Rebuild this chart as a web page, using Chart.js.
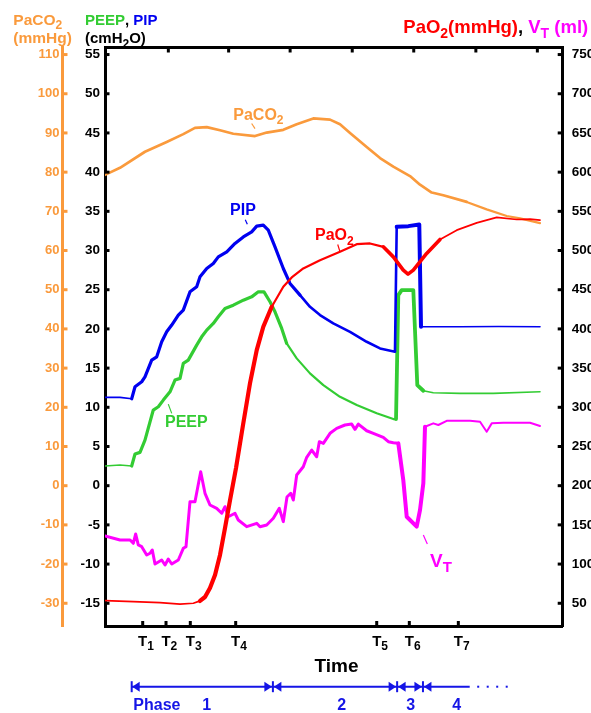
<!DOCTYPE html>
<html>
<head>
<meta charset="utf-8">
<script src="https://cdn.jsdelivr.net/npm/chart.js@4.4.1/dist/chart.umd.min.js"></script>
<style>
  html, body { margin: 0; padding: 0; background: #fff; }
  #wrap { width: 591px; height: 713px; position: relative; }
</style>
</head>
<body>
<div id="wrap"><canvas id="chart"></canvas></div>
<script>
// ---- data (time in arbitrary units along the x axis) ----
const timeTicks = [6.13, 9.92, 13.87, 21.25, 44.18, 49.48, 57.45];
const timeLabels = ['1', '2', '3', '4', '5', '6', '7'];
const topTicks = [10.3, 20.1, 30.1, 40.2, 50.2, 60.3, 70.3];

const cmTicks = [-15, -10, -5, 0, 5, 10, 15, 20, 25, 30, 35, 40, 45, 50, 55];
const pacoTicks = [-30, -20, -10, 0, 10, 20, 30, 40, 50, 60, 70, 80, 90, 100, 110];
const mlTicks = [50, 100, 150, 200, 250, 300, 350, 400, 450, 500, 550, 600, 650, 700, 750];

const phaseEdges = [4.34, 27.3, 47.5, 51.7, 59.3];
const phaseNames = ['1', '2', '3', '4'];
const phaseNameAt = [16.54, 38.49, 49.71, 57.19];

const pacoTime = [0, 2.44, 6.5, 10.03, 12.73, 14.63, 16.54, 18.7, 20.86, 24.39, 26.29, 28.99, 31.17, 33.87, 36.59, 38.21, 39.84, 42.55, 44.72, 46.88, 49.59, 51.22, 53.12, 55.0, 58.81, 62.06, 65.32, 67.48, 70.73];
const pacoVal = [79.3, 81.1, 85.2, 87.7, 89.7, 91.3, 91.5, 90.7, 89.8, 89.2, 90.1, 90.8, 92.2, 93.7, 93.4, 92.2, 90.0, 86.4, 83.6, 81.4, 79.0, 76.8, 74.8, 74.1, 72.4, 70.5, 68.8, 68.2, 67.0];

const pipTime = [0, 2.44, 4.34, 4.88, 5.97, 6.5, 7.59, 8.41, 9.22, 10.03, 10.85, 11.92, 12.73, 13.82, 14.91, 15.45, 16.54, 17.61, 18.42, 19.8, 21.14, 22.49, 23.85, 24.67, 25.74, 26.55, 27.64, 28.99, 30.08, 31.71, 33.33, 34.96, 37.12, 39.84, 42.55, 44.72, 47.15, 47.43, 49.32, 51.1, 51.38, 57.72, 64.0, 70.73];
const pipVal = [11.27, 11.27, 11.09, 12.62, 13.26, 13.89, 16.02, 16.44, 18.36, 19.63, 20.49, 21.76, 22.4, 24.73, 25.37, 26.64, 27.71, 28.35, 29.19, 29.83, 30.9, 31.74, 32.38, 33.11, 33.24, 32.6, 30.47, 27.71, 25.8, 24.31, 22.82, 21.76, 20.7, 19.63, 18.36, 17.51, 17.08, 33.02, 33.11, 33.32, 20.27, 20.27, 20.3, 20.27];

const peepTime = [0, 2.44, 4.34, 4.88, 5.69, 6.5, 7.85, 8.67, 9.48, 10.57, 11.38, 12.2, 12.73, 13.54, 14.91, 15.72, 16.54, 17.61, 18.42, 19.51, 20.86, 22.49, 23.85, 24.93, 25.85, 26.83, 27.64, 28.73, 29.54, 31.17, 33.33, 35.5, 38.21, 40.93, 44.18, 46.88, 47.32, 47.69, 48.24, 50.13, 50.78, 51.76, 53.38, 57.72, 63.14, 70.73];
const peepVal = [2.51, 2.63, 2.51, 4.04, 4.25, 5.82, 9.65, 10.07, 10.92, 11.98, 13.47, 13.69, 15.6, 16.02, 17.93, 18.99, 19.85, 20.7, 21.54, 22.61, 23.03, 23.67, 24.09, 24.73, 24.73, 23.46, 22.18, 20.06, 18.15, 16.24, 14.33, 12.83, 11.34, 10.28, 9.23, 8.5, 8.5, 24.31, 24.95, 24.95, 12.83, 12.11, 11.85, 11.78, 11.78, 11.98];

const pao2Time = [0, 4.6, 8.94, 12.2, 14.36, 15.45, 16.26, 17.07, 17.89, 18.7, 19.51, 20.33, 21.3, 22.44, 23.58, 24.67, 25.74, 27.11, 28.99, 30.36, 32.24, 34.96, 38.21, 40.93, 43.09, 45.25, 46.88, 48.5, 49.27, 50.13, 52.3, 54.47, 57.19, 60.44, 63.69, 66.94, 69.11, 70.73];
const pao2Val = [53.3, 52.1, 50.8, 49, 50, 53, 58, 69.5, 86.1, 111.6, 146, 181.7, 222.5, 277.4, 330.9, 373, 402.7, 428.2, 453.7, 465.7, 477.1, 487.7, 498.3, 508.1, 509, 504.7, 491.9, 475, 469.9, 475, 496.3, 514.1, 526, 535.3, 542.2, 539.6, 540, 538.7];

const vtTime = [0, 2.44, 4.07, 4.6, 4.99, 5.41, 5.97, 6.78, 7.32, 7.69, 8.13, 9.22, 9.76, 10.29, 10.85, 11.92, 12.73, 13.17, 13.82, 14.63, 15.56, 16.26, 17.07, 18.16, 18.98, 19.51, 20.05, 21.14, 21.67, 23.04, 24.67, 25.2, 26.29, 27.37, 28.34, 28.99, 29.59, 30.2, 30.62, 31.17, 32.24, 32.8, 33.61, 34.42, 34.85, 35.5, 36.59, 37.67, 39.02, 40.11, 40.65, 41.19, 42.55, 43.63, 45.25, 46.07, 46.88, 47.69, 48.5, 49.06, 50.68, 51.22, 51.76, 52.03, 53.38, 54.2, 55.56, 59.35, 60.98, 62.06, 62.88, 64.76, 66.94, 69.11, 70.73];
const vtVal = [135.8, 130.7, 130.7, 126.5, 138.4, 124.4, 122.2, 111.6, 113.8, 118, 100.1, 105.2, 98.8, 106.5, 100.1, 105.2, 120.1, 122.2, 179.6, 179.6, 217.8, 190.3, 175.4, 171.1, 164.8, 173.2, 160.4, 164.8, 156.2, 147.7, 152, 147.7, 149.9, 158.4, 171.1, 154.1, 185.6, 190.3, 181.7, 213.6, 224.2, 236.2, 245.5, 236.9, 256.1, 254, 266.8, 273.1, 277.4, 278.6, 271.9, 278.6, 270.1, 266.8, 261.7, 256.1, 254.8, 254, 207.2, 160.4, 147.7, 169, 203, 275.2, 279.5, 277.4, 282.8, 282.8, 281.6, 268.8, 279.5, 280.3, 280.3, 280.3, 276.1];

// ---- styling ----
const ink = {
  orange: '#FA9A3C', green: '#33CC33', blue: '#0000F0', red: '#FF0000',
  magenta: '#FF00FF', black: '#000000', phase: '#1515E6'
};
const FONT = '"Liberation Sans", Arial, Helvetica, sans-serif';
Chart.defaults.font.family = FONT;

function zip(t, v) { return t.map((x, i) => ({ x, y: v[i] })); }
function widths(ranges, base) {
  return c => {
    const x = c.p0.parsed.x;
    for (const [a, b, w] of ranges) if (x >= a && x < b) return w;
    return base;
  };
}

function series(label, t, v, color, axis, ranges, base) {
  return {
    label, data: zip(t, v), yAxisID: axis, borderColor: color,
    borderWidth: base, pointRadius: 0, tension: 0, fill: false,
    borderJoinStyle: 'round', borderCapStyle: 'round',
    segment: { borderWidth: widths(ranges, base) }
  };
}

// text with subscripts: parts = [[text, color, isSub], ...]
function rich(ctx, x, y, parts, size) {
  for (const [t, c, sub] of parts) {
    const s = sub ? Math.round(size * 0.78) : size;
    ctx.font = `bold ${s}px ${FONT}`;
    ctx.fillStyle = c;
    ctx.fillText(t, x, y + (sub ? size * 0.28 : 0));
    x += ctx.measureText(t).width;
  }
}

function line(ctx, x1, y1, x2, y2, color, w) {
  ctx.strokeStyle = color; ctx.lineWidth = w;
  ctx.beginPath(); ctx.moveTo(x1, y1); ctx.lineTo(x2, y2); ctx.stroke();
}

function tri(ctx, tip, y, dir, color) {
  // dir -1 points left, +1 points right
  ctx.fillStyle = color;
  ctx.beginPath();
  ctx.moveTo(tip, y);
  ctx.lineTo(tip - dir * 7.5, y - 5);
  ctx.lineTo(tip - dir * 7.5, y + 5);
  ctx.closePath(); ctx.fill();
}

const decor = {
  id: 'decor',
  afterDraw(chart) {
    const { ctx, chartArea: a, scales } = chart;
    const X = scales.x, Y = scales.y, P = scales.yP, R = scales.yR;
    ctx.save();
    ctx.textAlign = 'left';
    ctx.textBaseline = 'alphabetic';

    // inward tick marks
    P.ticks.forEach(t => { const y = P.getPixelForValue(t.value); line(ctx, P.right, y, P.right + 5, y, ink.orange, 3); });
    Y.ticks.forEach(t => { const y = Y.getPixelForValue(t.value); line(ctx, a.left, y, a.left + 4.5, y, ink.black, 3); });
    R.ticks.forEach(t => { const y = R.getPixelForValue(t.value); line(ctx, a.right - 5, y, a.right, y, ink.black, 3); });
    timeTicks.forEach(v => { const x = X.getPixelForValue(v); line(ctx, x, a.bottom - 5, x, a.bottom, ink.black, 3); });
    topTicks.forEach(v => { const x = X.getPixelForValue(v); line(ctx, x, a.top, x, a.top + 5, ink.black, 3); });

    // time tick labels T1..T7
    timeTicks.forEach((v, i) => {
      const x = X.getPixelForValue(v);
      ctx.font = `bold 15px ${FONT}`;
      const w = ctx.measureText('T').width;
      rich(ctx, x - w / 2, a.bottom + 19.7, [['T', ink.black], [timeLabels[i], ink.black, true]], 15);
    });

    // x title
    ctx.font = `bold 19px ${FONT}`;
    ctx.fillStyle = ink.black;
    ctx.textAlign = 'center';
    ctx.fillText('Time', 336.5, 672);
    ctx.textAlign = 'left';

    // phase arrow
    const py = 686.7;
    const ex = phaseEdges.map(v => X.getPixelForValue(v));
    line(ctx, ex[0], py, ex[ex.length - 1], py, ink.phase, 2);
    line(ctx, ex[0], py - 5.5, ex[0], py + 5.5, ink.phase, 2);
    tri(ctx, ex[0] + 0.5, py, -1, ink.phase);
    for (let i = 1; i < ex.length - 1; i++) {
      line(ctx, ex[i], py - 5.5, ex[i], py + 5.5, ink.phase, 2);
      tri(ctx, ex[i] - 1, py, 1, ink.phase);
      tri(ctx, ex[i] + 1, py, -1, ink.phase);
    }
    ctx.fillStyle = ink.phase;
    for (let k = 0; k < 4; k++) ctx.fillRect(ex[ex.length - 1] + 7.5 + k * 9.5, py - 1, 2, 2);
    ctx.font = `bold 16px ${FONT}`;
    ctx.fillText('Phase', ex[0] + 1.6, 710);
    ctx.textAlign = 'center';
    phaseNames.forEach((n, i) => ctx.fillText(n, X.getPixelForValue(phaseNameAt[i]), 710));
    ctx.textAlign = 'left';

    // axis titles
    rich(ctx, 13.3, 25, [['PaCO', ink.orange], ['2', ink.orange, true]], 15.5);
    rich(ctx, 13.3, 43.3, [['(mmHg)', ink.orange]], 15.5);
    rich(ctx, 85, 25, [['PEEP', ink.green], [', ', ink.black], ['PIP', ink.blue]], 15);
    rich(ctx, 85, 43.3, [['(cmH', ink.black], ['2', ink.black, true], ['O)', ink.black]], 15);
    rich(ctx, 403.3, 33.3, [['PaO', ink.red], ['2', ink.red, true], ['(mmHg)', ink.red], [', ', ink.black],
      ['V', ink.magenta], ['T', ink.magenta, true], [' (ml)', ink.magenta]], 18.5);

    // curve labels with leader lines (anchored in the cmH2O scale)
    const tags = [
      { parts: [['PaCO', ink.orange], ['2', ink.orange, true]], c: ink.orange, at: [20.86, 46.69], lead: [23.85, 46.2, 24.39, 45.56], size: 16 },
      { parts: [['PIP', ink.blue]], c: ink.blue, at: [20.33, 34.51], lead: [22.81, 33.94, 23.14, 33.36], size: 16 },
      { parts: [['PaO', ink.red], ['2', ink.red, true]], c: ink.red, at: [34.15, 31.32], lead: [37.84, 30.77, 38.21, 29.83], size: 16 },
      { parts: [['PEEP', ink.green]], c: ink.green, at: [9.76, 7.52], lead: [10.29, 10.41, 10.85, 9.23], size: 16 },
      { parts: [['V', ink.magenta], ['T', ink.magenta, true]], c: ink.magenta, at: [52.85, -10.33], lead: [51.76, -6.29, 52.41, -7.44], size: 19 }
    ];
    tags.forEach(g => {
      const [x1, y1, x2, y2] = g.lead;
      line(ctx, X.getPixelForValue(x1), Y.getPixelForValue(y1), X.getPixelForValue(x2), Y.getPixelForValue(y2), g.c, 1.2);
      rich(ctx, X.getPixelForValue(g.at[0]), Y.getPixelForValue(g.at[1]), g.parts, g.size);
    });

    ctx.restore();
  }
};

function yAxis(pos, weight, min, max, tickList, color, size, pad, width) {
  return {
    type: 'linear', position: pos, weight, min, max,
    afterBuildTicks: s => { s.ticks = tickList.map(v => ({ value: v })); },
    ticks: { color, padding: pad, font: { size, weight: 'bold' } },
    grid: { display: false, drawTicks: false },
    border: { display: true, color, width: 3 },
    afterFit: s => { s.width = width; }
  };
}
function xAxis(pos) {
  return {
    type: 'linear', position: pos, min: 0, max: 74.42,
    ticks: { display: false },
    grid: { display: false, drawTicks: false },
    border: { display: true, color: ink.black, width: 3 },
    afterFit: s => { s.height = 0; }
  };
}

new Chart(document.getElementById('chart'), {
  type: 'line',
  data: {
    datasets: [
      series('PaO2', pao2Time, pao2Val, ink.red, 'yR', [[15.4, 27, 4.2], [27, 44, 2.2], [44, 52.5, 3.6]], 1.7),
      series('PIP', pipTime, pipVal, ink.blue, 'y', [[4.3, 31, 3.2], [31, 47.3, 2.6], [47.3, 51.3, 4]], 1.6),
      series('PEEP', peepTime, peepVal, ink.green, 'y', [[4.3, 29, 3.2], [29, 47.2, 2.2], [47.2, 51.7, 3.8]], 1.6),
      series('VT', vtTime, vtVal, ink.magenta, 'yR', [[0, 47.6, 3], [47.6, 52.0, 4]], 2),
      series('PaCO2', pacoTime, pacoVal, ink.orange, 'yP', [[0, 56, 2.7]], 2.2)
    ]
  },
  options: {
    responsive: true,
    maintainAspectRatio: false,
    animation: false,
    layout: { padding: { top: 47.5, bottom: 87, left: 0, right: 0 } },
    plugins: { legend: { display: false }, tooltip: { enabled: false }, title: { display: false } },
    scales: {
      x: xAxis('bottom'),
      xTop: xAxis('top'),
      yP: yAxis('left', 1, -35.8, 111.8, pacoTicks, ink.orange, 13, 3, 62.5),
      y: yAxis('left', 0, -17.9, 55.9, cmTicks, ink.black, 13.5, 5, 42.5),
      yR: yAxis('right', 0, 21, 759, mlTicks, ink.black, 13.5, 9, 28.3)
    }
  },
  plugins: [decor]
});
</script>
</body>
</html>
